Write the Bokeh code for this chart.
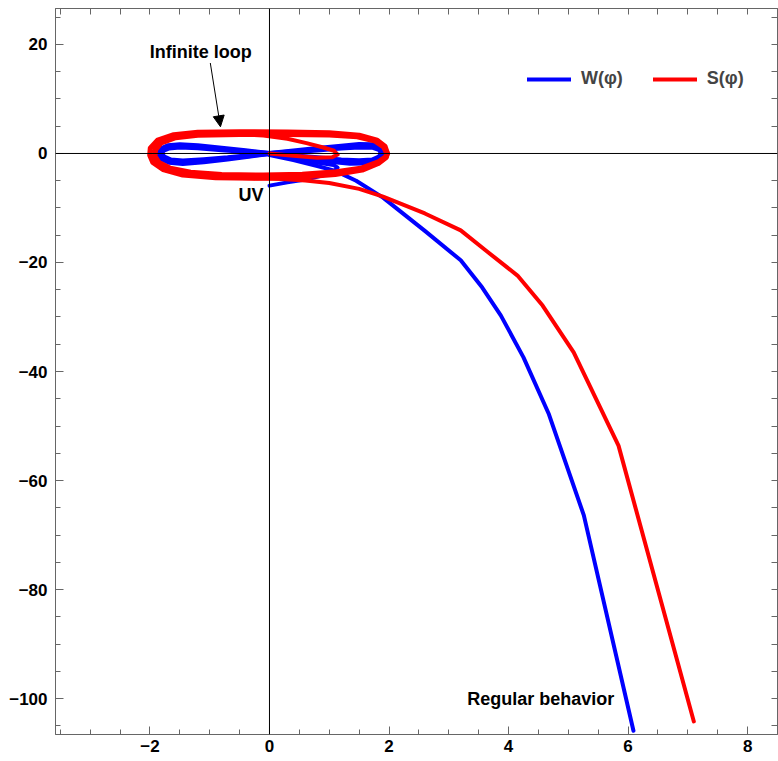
from bokeh.plotting import figure
from bokeh.models import (Range1d, FixedTicker, LinearAxis, Span, Label, Arrow,
                          NormalHead, Legend, LegendItem)
from bokeh.embed import file_html
from bokeh.resources import INLINE

# ---------------- data ----------------
# W(phi): blue
w_uv_x = [0.0, 0.3, 0.6, 0.9, 1.08, 1.14, 1.07, 0.85, 0.5, 0.2, 0.0]
w_uv_y = [-5.9, -5.3, -4.8, -4.0, -3.3, -2.6, -2.1, -1.75, -1.2, -0.55, -0.1]

w_loop1_x = [0.0, 0.4, 0.8, 1.2, 1.5, 1.72, 1.85, 1.9, 1.88, 1.8, 1.62, 1.35, 1.0, 0.6, 0.3, 0.0,
             -0.4, -0.8, -1.2, -1.5, -1.7, -1.82, -1.86, -1.82, -1.68, -1.45, -1.1, -0.7, -0.35, 0.0]
w_loop1_y = [0.0, 0.45, 0.9, 1.35, 1.65, 1.6, 1.1, 0.4, -0.4, -1.2, -1.75, -1.8, -1.45, -0.95, -0.5, 0.0,
             0.5, 0.95, 1.4, 1.6, 1.4, 0.8, 0.0, -0.9, -1.6, -1.85, -1.5, -1.0, -0.5, 0.0]

w_loop2_x = [0.0, 0.4, 0.8, 1.2, 1.5, 1.72, 1.84, 1.87, 1.84, 1.72, 1.5, 1.2, 0.8, 0.4, 0.0,
             -0.4, -0.8, -1.2, -1.5, -1.68, -1.78, -1.8, -1.77, -1.65, -1.45, -1.1, -0.7, -0.35, 0.0]
w_loop2_y = [0.0, 0.3, 0.65, 1.0, 1.2, 1.15, 0.7, 0.1, -0.6, -1.2, -1.35, -1.2, -0.8, -0.4, 0.0,
             0.35, 0.7, 1.05, 1.2, 1.0, 0.55, 0.0, -0.6, -1.2, -1.4, -1.15, -0.8, -0.4, 0.0]

w_tail_x = [0.0, 0.4, 0.8, 1.1, 1.45, 1.9, 2.6, 3.2, 3.56, 3.87, 4.25, 4.67, 5.26, 6.09]
w_tail_y = [-0.3, -1.2, -2.3, -3.2, -5.0, -8.1, -14.2, -19.6, -24.6, -29.7, -37.4, -47.7, -66.4, -105.9]

# S(phi): red
s_start_x = [0.0, 0.4, 0.8, 1.05, 1.14, 1.08, 0.9, 0.62, 0.3, -0.1, -0.6]
s_start_y = [0.0, -0.4, -0.8, -0.7, -0.2, 0.5, 1.1, 1.9, 2.7, 3.3, 3.6]

s_loop1_x = [1.97, 1.93, 1.8, 1.5, 1.0, 0.3, -0.5, -1.2, -1.6, -1.87, -1.99, -2.0, -1.95, -1.78, -1.45,
             -0.9, -0.2, 0.5, 1.1, 1.55, 1.82, 1.95, 1.97]
s_loop1_y = [0.0, 1.3, 2.4, 3.3, 3.75, 3.9, 3.95, 3.85, 3.4, 2.4, 1.0, -0.3, -1.6, -2.9, -3.9,
             -4.4, -4.5, -4.3, -3.8, -3.0, -1.8, -0.7, 0.0]

s_loop2_x = [1.97, 1.91, 1.77, 1.47, 1.0, 0.3, -0.5, -1.2, -1.57, -1.81, -1.91, -1.92, -1.85, -1.66, -1.32,
             -0.8, -0.1, 0.55, 1.12, 1.55, 1.82, 1.95, 1.97]
s_loop2_y = [0.0, 1.25, 2.3, 3.1, 3.45, 3.55, 3.55, 3.4, 2.95, 2.0, 0.7, -0.5, -1.7, -2.75, -3.5,
             -3.9, -4.0, -3.85, -3.4, -2.7, -1.6, -0.6, 0.0]

s_tail_x = [-0.8, -0.3, 0.2, 0.6, 1.0, 1.5, 1.9, 2.6, 3.2, 3.62, 4.15, 4.57, 5.09, 5.84, 7.10]
s_tail_y = [-4.4, -4.55, -4.7, -4.95, -5.4, -6.5, -7.9, -11.0, -14.1, -17.8, -22.4, -27.9, -36.5, -53.6, -104.2]

x_major = [-2, 0, 2, 4, 6, 8]
y_major = [-100, -80, -60, -40, -20, 0, 20]

legend_labels = ["W(φ)", "S(φ)"]
note_texts = ["Infinite loop", "UV", "Regular behavior"]
note_x = [-1.15, -0.1, 5.77]
note_y = [18.6, -7.6, -100.0]
arrow_from = (-0.99, 16.6)
arrow_to = (-0.82, 4.9)

BLUE = "#0000ff"
RED = "#ff0000"
FRAME = "#666666"
FONT = "Liberation Sans"

# ---------------- figure ----------------
p = figure(width=778, height=761, output_backend="svg", toolbar_location=None,
           x_range=Range1d(-3.58, 8.5), y_range=Range1d(-106.6, 26.6),
           min_border_left=55, min_border_right=1, min_border_top=8, min_border_bottom=27)
p.grid.visible = False
p.outline_line_color = FRAME
p.background_fill_color = "white"


def minus(v):
    return str(v).replace("-", "\u2212")


def base_axis(ax):
    ax.axis_line_color = FRAME
    ax.major_tick_line_color = FRAME
    ax.minor_tick_line_color = FRAME
    ax.major_tick_in = 8
    ax.major_tick_out = 0
    ax.minor_tick_in = 5
    ax.minor_tick_out = 0


def label_axis(ax, major, minor, standoff):
    base_axis(ax)
    ax.ticker = FixedTicker(ticks=major, minor_ticks=minor)
    ax.major_label_text_font = FONT
    ax.major_label_text_font_style = "bold"
    ax.major_label_text_font_size = "17px"
    ax.major_label_text_color = "black"
    ax.major_label_overrides = {v: minus(v) for v in major}
    ax.major_label_standoff = standoff


def tick_only_axis(ax, major, minor):
    # ticks on the opposite frame edges, without labels
    base_axis(ax)
    ax.ticker = FixedTicker(ticks=[], minor_ticks=sorted(set(major) | set(minor)))
    ax.minor_tick_in = 6


x_minor = [v / 2 for v in range(-7, 18)]
y_minor = list(range(-105, 26, 5))

label_axis(p.xaxis[0], x_major, x_minor, 5)
label_axis(p.yaxis[0], y_major, y_minor, 8)

top_ax = LinearAxis()
tick_only_axis(top_ax, x_major, x_minor)
p.add_layout(top_ax, "above")
right_ax = LinearAxis()
tick_only_axis(right_ax, y_major, y_minor)
p.add_layout(right_ax, "right")

# origin axes
p.add_layout(Span(location=0, dimension="width", line_color="black", line_width=1))
p.add_layout(Span(location=0, dimension="height", line_color="black", line_width=1))

# curves
kw = dict(line_join="round", line_cap="round")
p.line(w_loop1_x, w_loop1_y, line_color=BLUE, line_width=5, **kw)
p.line(w_loop2_x, w_loop2_y, line_color=BLUE, line_width=5, **kw)
p.line(w_uv_x, w_uv_y, line_color=BLUE, line_width=4, **kw)
rb = p.line(w_tail_x, w_tail_y, line_color=BLUE, line_width=4, **kw)

p.line(s_loop1_x, s_loop1_y, line_color=RED, line_width=5.5, **kw)
p.line(s_loop2_x, s_loop2_y, line_color=RED, line_width=5.5, **kw)
p.line(s_start_x, s_start_y, line_color=RED, line_width=4, **kw)
rr = p.line(s_tail_x, s_tail_y, line_color=RED, line_width=4, **kw)

# annotations
aligns = ["center", "right", "right"]
for t, x, y, a in zip(note_texts, note_x, note_y, aligns):
    p.add_layout(Label(x=x, y=y, text=t, text_font=FONT, text_font_style="bold",
                       text_font_size="18px", text_align=a, text_baseline="middle",
                       text_color="black"))

p.add_layout(Arrow(end=NormalHead(size=11, fill_color="black", line_color="black", line_width=1),
                   x_start=arrow_from[0], y_start=arrow_from[1],
                   x_end=arrow_to[0], y_end=arrow_to[1], line_color="black", line_width=1))

legend = Legend(items=[LegendItem(label=legend_labels[0], renderers=[rb]),
                       LegendItem(label=legend_labels[1], renderers=[rr])],
                orientation="horizontal", location=(472, 645),
                glyph_width=44, glyph_height=20, label_standoff=10, spacing=30,
                padding=0, margin=0, border_line_color=None, background_fill_alpha=0,
                label_text_font=FONT, label_text_font_style="bold", label_text_font_size="18px")
p.add_layout(legend)

open("out.html", "w").write(file_html(p, INLINE))
